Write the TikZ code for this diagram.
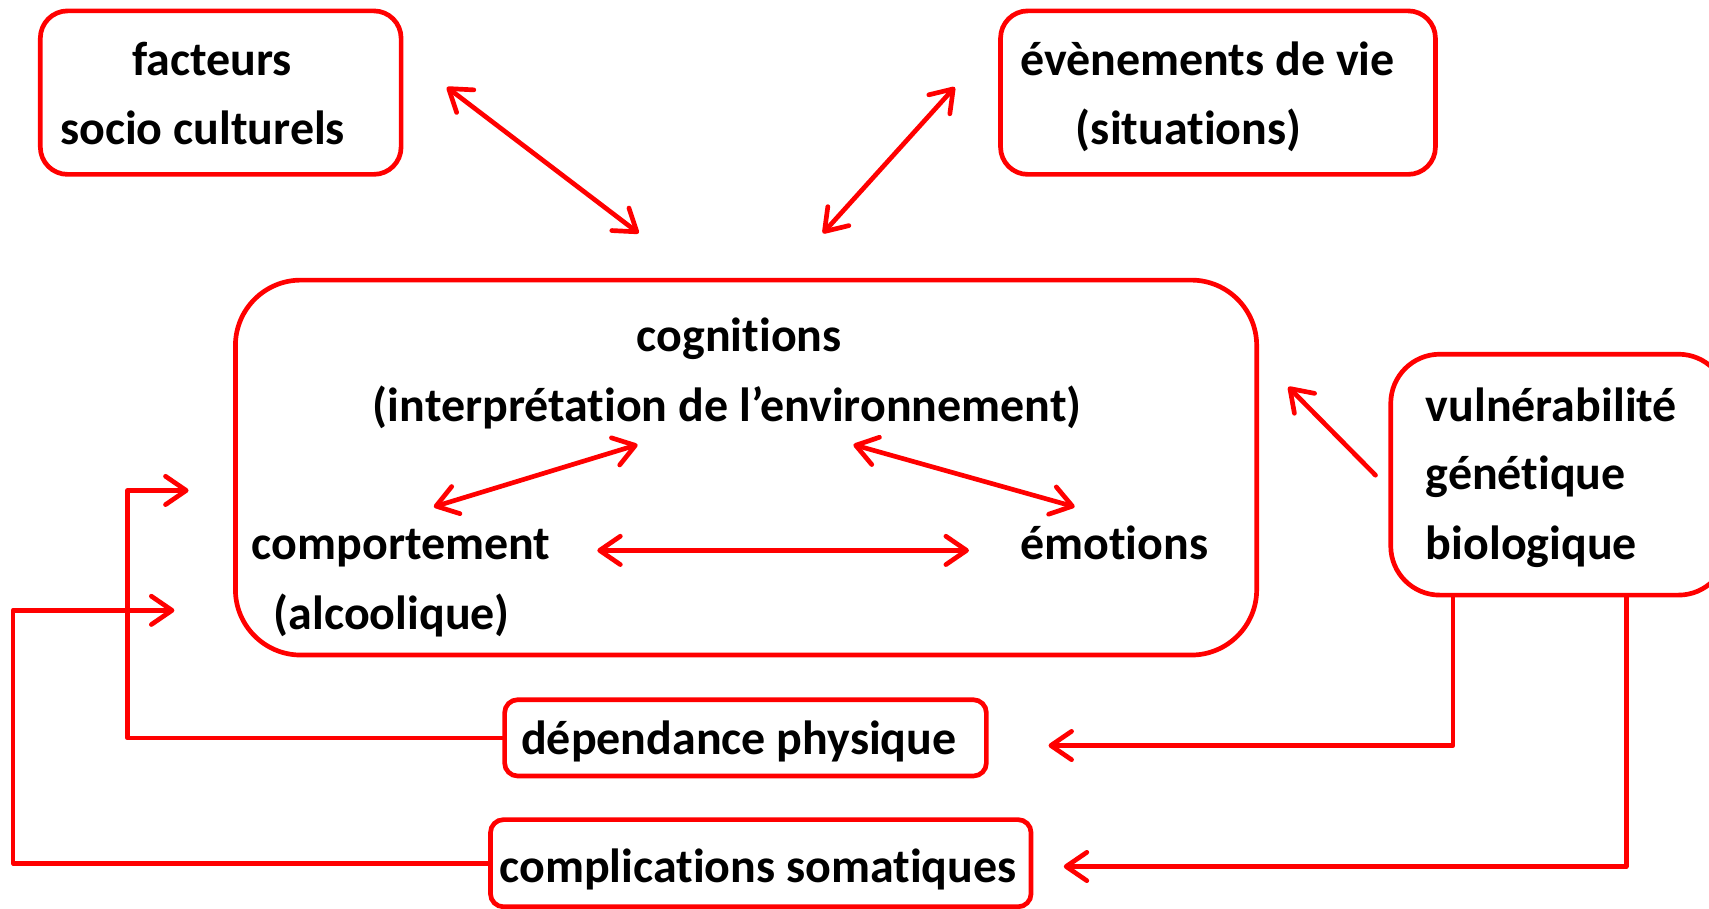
\documentclass[tikz,border=0pt]{standalone}
\usepackage{fontspec}
\setmainfont{Carlito}[RawFeature={-liga}]
\usetikzlibrary{arrows.meta}
\definecolor{lnred}{RGB}{255,0,0}
\tikzset{
  frame/.style={draw=lnred, line width=4.3pt, inner sep=0pt},
  lbl/.style={inner sep=0pt, anchor=mid west, text=black, yshift=-12pt,
    font=\fontsize{44}{50}\selectfont\bfseries},
  link/.style={draw=lnred, line width=4.3pt, line cap=round, line join=round},
  tip/.style={-{Straight Barb[length=19pt,width=26pt,round]}},
  tips/.style={{Straight Barb[length=19pt,width=26pt,round]}-{Straight Barb[length=19pt,width=26pt,round]}},
}
\begin{document}
\begin{tikzpicture}[x=1pt,y=-1pt]
\useasboundingbox (0,0) rectangle (1568,834);
\clip (0,0) rectangle (1568,834);

% boxes
\node[frame, rounded corners=25pt, minimum width=331pt, minimum height=150pt] (soc) at (202.5,85) {};
\node[frame, rounded corners=25pt, minimum width=399pt, minimum height=150pt] (evt) at (1117.5,85) {};
\node[frame, rounded corners=60pt, minimum width=937pt, minimum height=344pt] (cog) at (684.5,429) {};
\node[frame, rounded corners=45pt, minimum width=309pt, minimum height=221pt] (vul) at (1430.5,435.5) {};
\node[frame, rounded corners=12pt, minimum width=442pt, minimum height=70pt] (dep) at (684,677) {};
\node[frame, rounded corners=12pt, minimum width=496pt, minimum height=80pt] (som) at (698,792) {};

% texts
\node[lbl] (tsoc1) at (121,55) {facteurs};
\node[lbl] (tsoc2) at (55,118) {socio culturels};
\node[lbl] (tevt1) at (936,55) {évènements de vie};
\node[lbl] (tevt2) at (987,118) {(situations)};
\node[lbl] (tcog1) at (584,308) {cognitions};
\node[lbl] (tcog2) at (342,372) {(interprétation de l’environnement)};
\node[lbl] (tcom1) at (231,499) {comportement};
\node[lbl] (tcom2) at (251,563) {(alcoolique)};
\node[lbl] (temo) at (936,499) {émotions};
\node[lbl] (tvul1) at (1308,372) {vulnérabilité};
\node[lbl] (tvul2) at (1308,435) {génétique};
\node[lbl] (tvul3) at (1308,499) {biologique};
\node[lbl] (tdep) at (478,678) {dépendance physique};
\node[lbl] (tsom) at (458,795) {complications somatiques};

% free ends of the connectors
\coordinate (a1) at (410,80);  \coordinate (a2) at (586,214);
\coordinate (b1) at (876,80);  \coordinate (b2) at (755,214);
\coordinate (c1) at (398,465); \coordinate (c2) at (585,408);
\coordinate (d1) at (783,408); \coordinate (d2) at (986,465);
\coordinate (e1) at (548,505); \coordinate (e2) at (889,505);
\coordinate (f1) at (1262,436); \coordinate (f2) at (1182,355);
\coordinate (g1) at (117,450); \coordinate (g2) at (173,450);
\coordinate (h1) at (12,560);  \coordinate (h2) at (160,560);
\coordinate (k1) at ([xshift=-97.5pt]vul.south); \coordinate (k2) at (962,684);
\coordinate (m1) at ([xshift=61.5pt]vul.south);  \coordinate (m2) at (976,795);

% connectors
\draw[link, tips] (a1) -- (a2);
\draw[link, tips] (b1) -- (b2);
\draw[link, tips] (c1) -- (c2);
\draw[link, tips] (d1) -- (d2);
\draw[link, tips] (e1) -- (e2);
\draw[link, tip] (f1) -- (f2);
\draw[link, tip] (dep.west) -| (g1) -- (g2);
\draw[link, tip] (som.west) -| (h1) -- (h2);
\draw[link, tip] (k1) |- (k2);
\draw[link, tip] (m1) |- (m2);
\end{tikzpicture}
\end{document}
